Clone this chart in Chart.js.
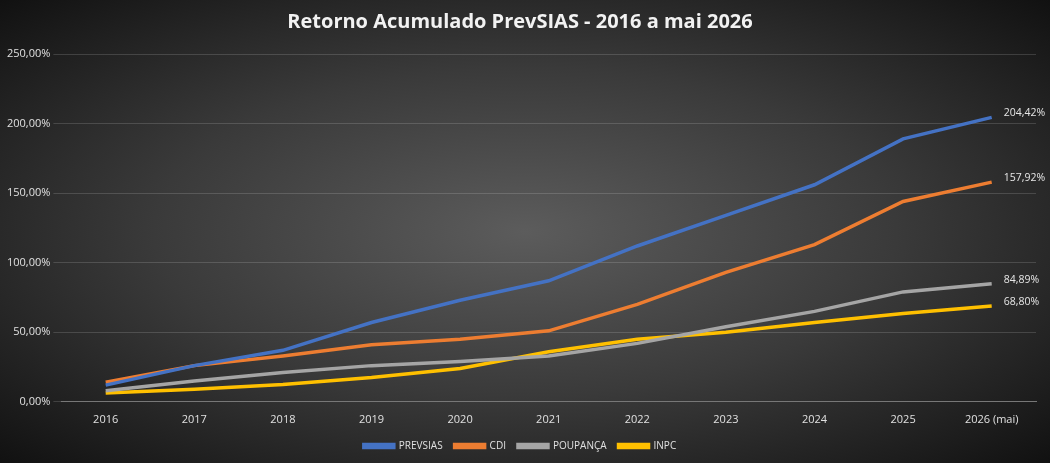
<!DOCTYPE html>
<html>
<head>
<meta charset="utf-8">
<script src="https://cdn.jsdelivr.net/npm/chart.js@4"></script>
<style>
  html, body { margin: 0; padding: 0; }
  body { width: 1050px; height: 463px; background: radial-gradient(ellipse at center, #5c5c5c 0%, #3a3a3a 50%, #111 100%); }
  #wrap { position: relative; width: 1050px; height: 463px; }
</style>
</head>
<body>
<div id="wrap"><canvas id="myChart"></canvas></div>
<script>
const years = ['2016', '2017', '2018', '2019', '2020', '2021', '2022', '2023', '2024', '2025', '2026 (mai)'];
const prevsias = [12, 26, 37, 57, 73, 87, 112, 134, 156, 189, 204.42];
const cdi = [14, 26, 33, 41, 45, 51, 70, 93, 113, 144, 157.92];
const poupanca = [8, 15, 21, 26, 29, 33, 42, 54, 65, 79, 84.89];
const inpc = [6.3, 9, 12.5, 17.5, 24, 36, 45, 50, 57, 63.5, 68.8];

const fmt = v => v.toFixed(2).replace('.', ',') + '%';

// label on the last point of every line
const lastLabel = {
  id: 'lastLabel',
  afterDatasetsDraw(chart) {
    const c = chart.ctx;
    c.save();
    c.font = '10.5px "Open Sans", sans-serif';
    c.fillStyle = '#e6e6e6';
    c.textBaseline = 'middle';
    chart.data.datasets.forEach((ds, i) => {
      const pts = chart.getDatasetMeta(i).data;
      const p = pts[pts.length - 1];
      c.fillText(fmt(ds.data[ds.data.length - 1]), p.x + 12, p.y - 4);
    });
    c.restore();
  }
};

const ctx = document.getElementById('myChart').getContext('2d');
new Chart(ctx, {
  type: 'line',
  data: {
    labels: years,
    datasets: [
      { label: 'PREVSIAS', data: prevsias, borderColor: '#4472c4', backgroundColor: '#4472c4' },
      { label: 'CDI', data: cdi, borderColor: '#ed7d31', backgroundColor: '#ed7d31' },
      { label: 'POUPANÇA', data: poupanca, borderColor: '#a5a5a5', backgroundColor: '#a5a5a5' },
      { label: 'INPC', data: inpc, borderColor: '#ffc000', backgroundColor: '#ffc000' }
    ]
  },
  options: {
    responsive: true,
    maintainAspectRatio: false,
    animation: false,
    layout: { padding: { left: 4, right: 14, top: 6, bottom: 2 } },
    elements: { line: { borderWidth: 3.5, tension: 0 }, point: { radius: 0 } },
    scales: {
      x: {
        offset: true,
        grid: { display: false },
        border: { color: '#777' },
        ticks: { color: '#e0e0e0', font: { size: 11, family: '"Open Sans", sans-serif' } }
      },
      y: {
        min: 0, max: 250,
        ticks: { stepSize: 50, color: '#e0e0e0', font: { size: 11, family: '"Open Sans", sans-serif' }, callback: v => fmt(v) },
        grid: { color: 'rgba(255,255,255,0.15)' },
        border: { display: false }
      }
    },
    plugins: {
      title: {
        display: true, text: 'Retorno Acumulado PrevSIAS - 2016 a mai 2026',
        color: '#f2f2f2', font: { size: 20, weight: 'bold', family: '"Open Sans", sans-serif' },
        padding: { top: 4, bottom: 20 }
      },
      legend: {
        position: 'bottom',
        labels: {
          color: '#e0e0e0', font: { size: 10, family: '"Open Sans", sans-serif' },
          boxWidth: 30, boxHeight: 3, padding: 12
        }
      },
      tooltip: { enabled: false }
    }
  },
  plugins: [lastLabel]
});
</script>
</body>
</html>
